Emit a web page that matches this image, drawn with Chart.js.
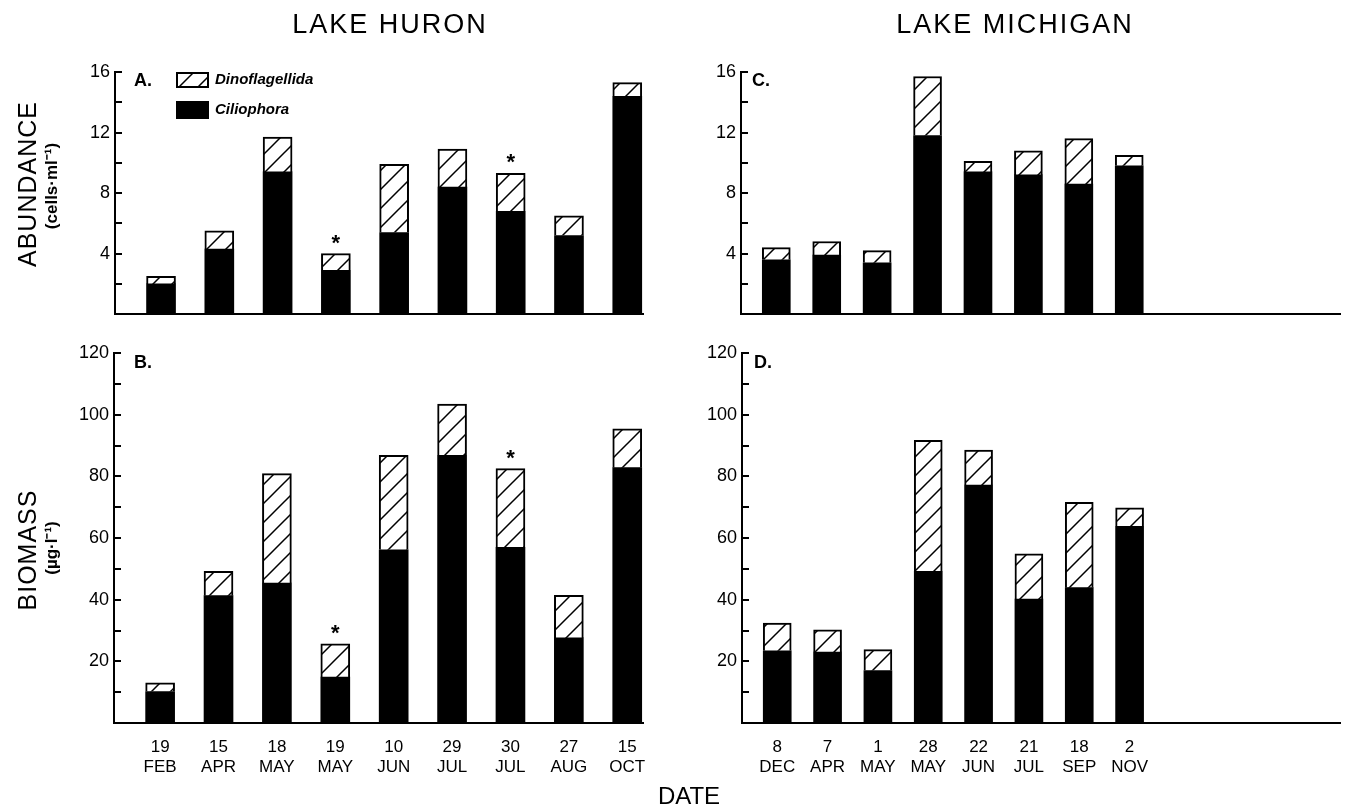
<!DOCTYPE html>
<html>
<head>
<meta charset="utf-8">
<script src="https://cdn.jsdelivr.net/npm/chart.js@4.4.1/dist/chart.umd.min.js"></script>
<style>
  body { margin: 0; background: #fff; }
  #page { position: relative; width: 1347px; height: 809px; overflow: hidden; font-family: "Liberation Sans", Arial, sans-serif; color: #000; }
  canvas { position: absolute; }
  .txt { position: absolute; transform: translate(-50%, -50%); white-space: nowrap; }
  .rot { transform: translate(-50%, -50%) rotate(-90deg); }
</style>
</head>
<body>
<div id="page">
  <canvas id="chartA" width="700" height="330" style="left:0;top:0"></canvas>
  <canvas id="chartB" width="700" height="479" style="left:0;top:330px"></canvas>
  <canvas id="chartC" width="647" height="330" style="left:700px;top:0"></canvas>
  <canvas id="chartD" width="647" height="479" style="left:700px;top:330px"></canvas>

  <div class="txt" style="left:390px;top:24px;font-size:27px;letter-spacing:2px">LAKE HURON</div>
  <div class="txt" style="left:1015px;top:24px;font-size:27px;letter-spacing:2px">LAKE MICHIGAN</div>
  <div class="txt rot" style="left:27px;top:184px;font-size:25px;letter-spacing:1px">ABUNDANCE</div>
  <div class="txt rot" style="left:50px;top:186px;font-size:17px;font-weight:bold">(cells·ml⁻¹)</div>
  <div class="txt rot" style="left:27px;top:550px;font-size:25px;letter-spacing:1px">BIOMASS</div>
  <div class="txt rot" style="left:50px;top:548px;font-size:17px;font-weight:bold">(µg·l⁻¹)</div>
  <div class="txt" style="left:689px;top:796px;font-size:24px">DATE</div>
</div>

<script>
// Sampling dates
const huronDays = ["19", "15", "18", "19", "10", "29", "30", "27", "15"];
const huronMonths = ["FEB", "APR", "MAY", "MAY", "JUN", "JUL", "JUL", "AUG", "OCT"];
const michiganDays = ["8", "7", "1", "28", "22", "21", "18", "2"];
const michiganMonths = ["DEC", "APR", "MAY", "MAY", "JUN", "JUL", "SEP", "NOV"];

// Abundance (cells/ml)
const huronCilioAbund = [2.0, 4.3, 9.4, 2.9, 5.4, 8.4, 6.8, 5.2, 14.4];
const huronDinoAbund = [0.5, 1.2, 2.3, 1.1, 4.5, 2.5, 2.5, 1.3, 0.9];
const michCilioAbund = [3.6, 3.9, 3.4, 11.8, 9.4, 9.2, 8.6, 9.8];
const michDinoAbund = [0.8, 0.9, 0.8, 3.9, 0.7, 1.6, 3.0, 0.7];

// Biomass (ug/l)
const huronCilioBio = [10.2, 41.3, 45.4, 14.9, 56.2, 86.8, 57.0, 27.6, 82.8];
const huronDinoBio = [2.8, 7.9, 35.5, 10.8, 30.6, 16.6, 25.5, 13.8, 12.6];
const michCilioBio = [23.4, 23.0, 17.0, 49.2, 77.2, 40.2, 43.9, 63.8];
const michDinoBio = [9.0, 7.2, 6.8, 42.5, 11.3, 14.7, 27.7, 6.0];

// samples marked with an asterisk (Huron)
const huronStarred = [3, 6];

// y axis ticks
const abundTicks = [4, 8, 12, 16];
const abundMinor = [2, 6, 10, 14];
const bioTicks = [20, 40, 60, 80, 100, 120];
const bioMinor = [10, 30, 50, 70, 90, 110];

const FONT = "'Liberation Sans', Arial, sans-serif";

// hatch pattern for Dinoflagellida
function makeHatch() {
    const s = 19;
    const c = document.createElement("canvas");
    c.width = s; c.height = s;
    const g = c.getContext("2d");
    g.fillStyle = "#fff";
    g.fillRect(0, 0, s, s);
    g.strokeStyle = "#000";
    g.lineWidth = 1.5;
    g.beginPath();
    g.moveTo(-2, s + 2); g.lineTo(s + 2, -2);
    g.moveTo(-2, 2); g.lineTo(2, -2);
    g.moveTo(s - 2, s + 2); g.lineTo(s + 2, s - 2);
    g.stroke();
    return g.createPattern(c, "repeat");
}
const hatch = makeHatch();

function toPoints(arr) {
    return arr.map((v, i) => ({ x: i, y: v }));
}

// inside tick marks on the y axis + panel letter, legend, asterisks
const decorPlugin = {
    id: "decor",
    afterDraw(chart, args, opts) {
        const ctx = chart.ctx;
        const y = chart.scales.y;
        const left = chart.chartArea.left;
        ctx.save();
        ctx.strokeStyle = "#000";
        ctx.lineWidth = 2;
        opts.ticks.concat(opts.minor).forEach(v => {
            const py = Math.round(y.getPixelForValue(v));
            ctx.beginPath();
            ctx.moveTo(left, py);
            ctx.lineTo(left + 7, py);
            ctx.stroke();
        });

        // panel letter
        ctx.fillStyle = "#000";
        ctx.font = "bold 18px " + FONT;
        ctx.textBaseline = "middle";
        ctx.textAlign = "left";
        ctx.fillText(opts.letter, opts.letterX, opts.letterY);

        // legend
        if (opts.legend) {
            ctx.fillStyle = hatch;
            ctx.fillRect(177, 73, 31, 14);
            ctx.lineWidth = 2;
            ctx.strokeRect(177, 73, 31, 14);
            ctx.fillStyle = "#000";
            ctx.fillRect(176, 101, 33, 18);
            ctx.font = "italic bold 15px " + FONT;
            ctx.fillText("Dinoflagellida", 215, 80);
            ctx.fillText("Ciliophora", 215, 110);
        }

        // asterisks
        if (opts.starred) {
            const meta = chart.getDatasetMeta(1);
            ctx.font = "bold 22px " + FONT;
            ctx.textAlign = "center";
            opts.starred.forEach(i => {
                const el = meta.data[i];
                ctx.fillText("*", el.x, el.y - 10);
            });
        }
        ctx.restore();
    }
};

function makeChart(id, cfg) {
    const days = cfg.days, months = cfg.months;
    return new Chart(document.getElementById(id), {
        type: "bar",
        data: {
            datasets: [{
                label: "Ciliophora",
                data: toPoints(cfg.cilio),
                backgroundColor: "#000",
                borderWidth: 0,
                barThickness: cfg.barW
            }, {
                label: "Dinoflagellida",
                data: toPoints(cfg.dino),
                backgroundColor: hatch,
                borderColor: "#000",
                borderWidth: 2,
                barThickness: cfg.barW
            }]
        },
        plugins: [decorPlugin],
        options: {
            responsive: false,
            animation: false,
            layout: { padding: { top: cfg.padTop, right: cfg.padRight, left: 0, bottom: 0 } },
            plugins: {
                legend: { display: false },
                tooltip: { enabled: false },
                decor: {
                    ticks: cfg.yTicks, minor: cfg.yMinor,
                    letter: cfg.letter, letterX: cfg.letterX, letterY: cfg.letterY,
                    legend: cfg.legend, starred: cfg.starred
                }
            },
            scales: {
                x: {
                    type: "linear",
                    stacked: true,
                    min: cfg.xMin,
                    max: cfg.xMax,
                    offset: false,
                    grid: { display: false, drawTicks: false },
                    border: { display: true, color: "#000", width: 2 },
                    afterBuildTicks: (scale) => {
                        scale.ticks = days.map((_, i) => ({ value: i }));
                    },
                    afterFit: (scale) => { scale.height = cfg.xHeight; },
                    ticks: {
                        display: cfg.showX,
                        autoSkip: false,
                        maxRotation: 0,
                        padding: 14,
                        color: "#000",
                        font: { family: FONT, size: 17, lineHeight: 1.18 },
                        callback: (v) => [days[v], months[v]]
                    }
                },
                y: {
                    stacked: true,
                    min: 0,
                    max: cfg.yMax,
                    grid: { display: false, drawTicks: false },
                    border: { display: true, color: "#000", width: 2 },
                    afterBuildTicks: (scale) => {
                        scale.ticks = cfg.yTicks.map(v => ({ value: v }));
                    },
                    afterFit: (scale) => { scale.width = cfg.yWidth; },
                    ticks: {
                        padding: 5,
                        color: "#000",
                        font: { family: FONT, size: 18 }
                    }
                }
            }
        }
    });
}

makeChart("chartA", {
    days: huronDays, months: huronMonths, cilio: huronCilioAbund, dino: huronDinoAbund,
    xMin: -0.79, xMax: 8.27, yMax: 16, yTicks: abundTicks, yMinor: abundMinor, barW: 29,
    padTop: 72, padRight: 57, xHeight: 13, yWidth: 115, showX: false,
    letter: "A.", letterX: 134, letterY: 81, legend: true, starred: huronStarred
});

makeChart("chartB", {
    days: huronDays, months: huronMonths, cilio: huronCilioBio, dino: huronDinoBio,
    xMin: -0.79, xMax: 8.27, yMax: 120, yTicks: bioTicks, yMinor: bioMinor, barW: 29,
    padTop: 23, padRight: 57, xHeight: 86, yWidth: 114, showX: true,
    letter: "B.", letterX: 134, letterY: 33, legend: false, starred: huronStarred
});

makeChart("chartC", {
    days: michiganDays, months: michiganMonths, cilio: michCilioAbund, dino: michDinoAbund,
    xMin: -0.70, xMax: 11.18, yMax: 16, yTicks: abundTicks, yMinor: abundMinor, barW: 28,
    padTop: 72, padRight: 7, xHeight: 13, yWidth: 41, showX: false,
    letter: "C.", letterX: 52, letterY: 81, legend: false, starred: null
});

makeChart("chartD", {
    days: michiganDays, months: michiganMonths, cilio: michCilioBio, dino: michDinoBio,
    xMin: -0.70, xMax: 11.18, yMax: 120, yTicks: bioTicks, yMinor: bioMinor, barW: 28,
    padTop: 23, padRight: 7, xHeight: 86, yWidth: 42, showX: true,
    letter: "D.", letterX: 54, letterY: 33, legend: false, starred: null
});
</script>
</body>
</html>
